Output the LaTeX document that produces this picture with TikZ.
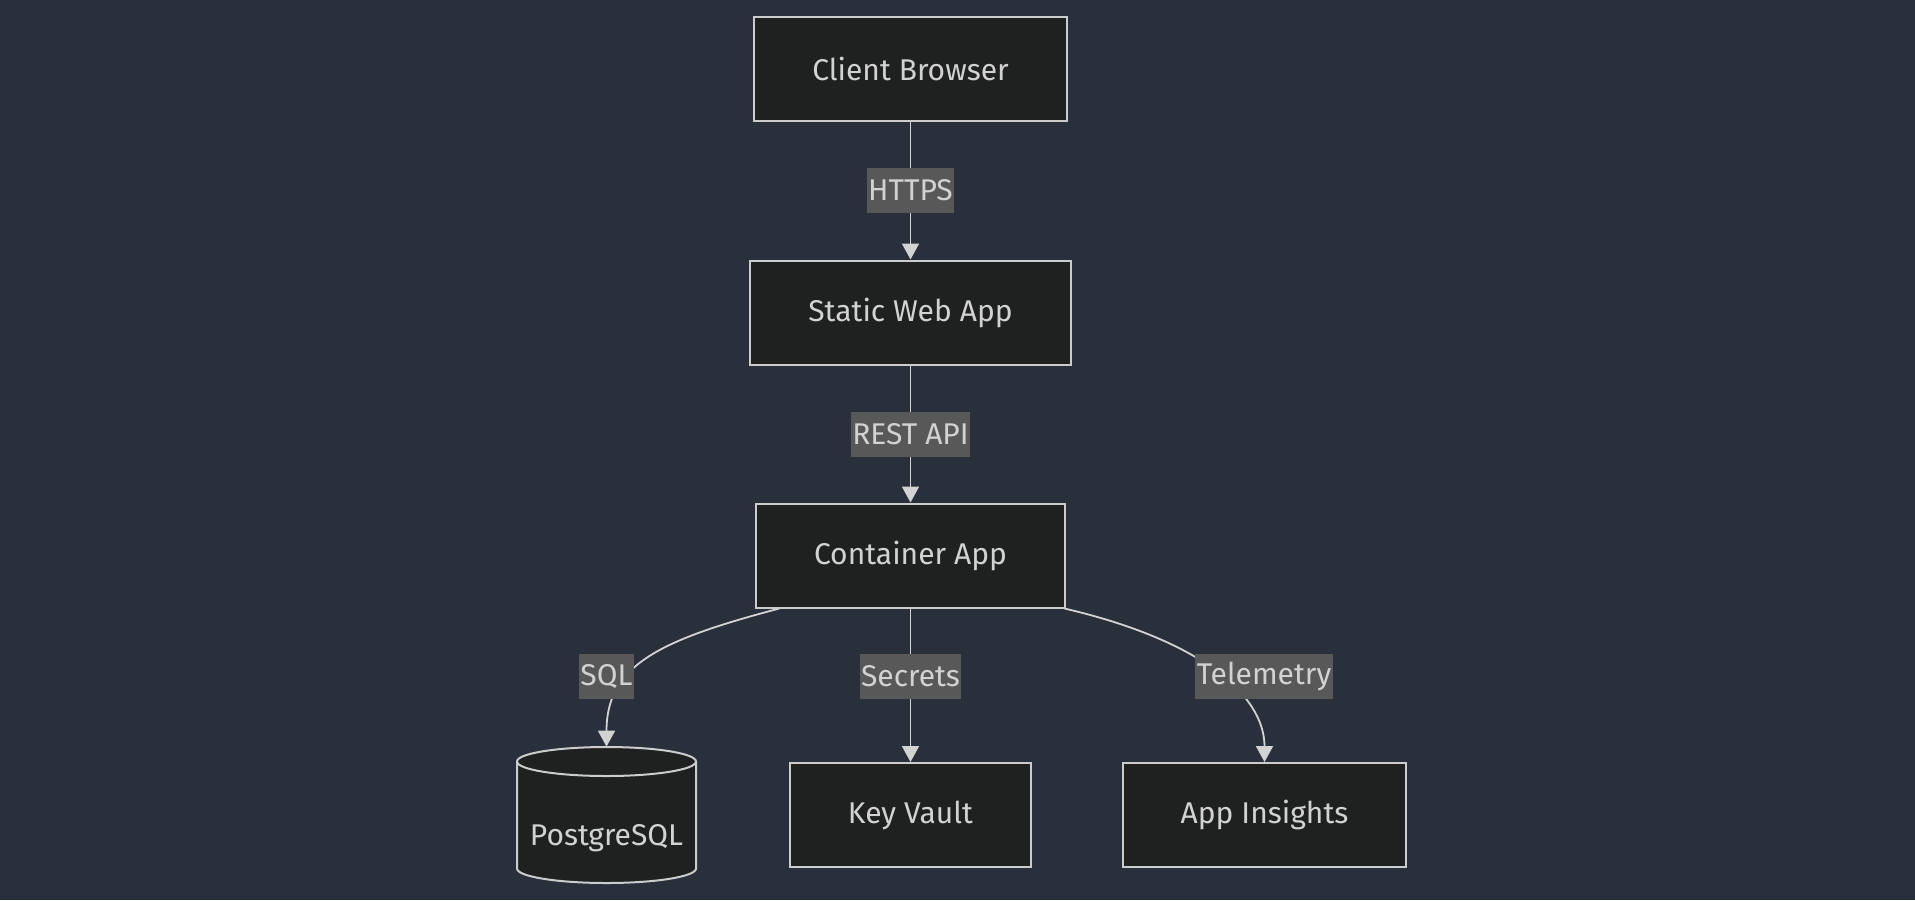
\documentclass[tikz,border=0pt]{standalone}
\usepackage{fontspec}
\setmainfont{Fira Sans}
\usepackage{xcolor}
\usepackage{tikz}
\usetikzlibrary{positioning}
\usetikzlibrary{arrows.meta}
\pgfdeclarelayer{nodelayer}
\pgfdeclarelayer{edgelayer}
\pgfsetlayers{nodelayer,edgelayer,main}

\definecolor{bgcol}{RGB}{42,47,60}
\definecolor{boxfill}{RGB}{31,32,32}
\definecolor{boxline}{RGB}{204,204,204}
\definecolor{labelfill}{RGB}{88,88,88}
\definecolor{inktext}{RGB}{210,210,210}
\definecolor{edgeline}{RGB}{211,211,211}

\tikzset{
  box/.style={draw=boxline, fill=boxfill, line width=1pt, text=inktext,
    minimum height=52pt, inner xsep=29pt, font=\fontsize{15}{18}\selectfont},
  dbbox/.style={inner sep=0pt, minimum width=89.5pt, minimum height=68pt,
    text=inktext, font=\fontsize{15}{18}\selectfont},
  elabel/.style={fill=labelfill, text=inktext, inner xsep=0.75pt, inner ysep=0pt,
    minimum height=22.5pt, font=\fontsize{15}{18}\selectfont},
  flow/.style={draw=edgeline, line width=0.9pt, -{Triangle[length=8pt,width=8.5pt]}}
}

\begin{document}
\begin{tikzpicture}[x=0.5pt, y=-0.5pt]
  \begin{pgfonlayer}{nodelayer}
    \fill [bgcol] (0, 0) rectangle (1915, 900);
    % database drum, drawn before its text
    \draw [draw=boxline, fill=boxfill, line width=1pt] (517, 761.5) -- (517, 868.5)
      arc [start angle=180, end angle=360, x radius=44.75pt, y radius=7.25pt]
      -- (696, 761.5)
      arc [start angle=0, end angle=180, x radius=44.75pt, y radius=7.25pt] -- cycle;
    \draw [boxline, line width=1pt] (517, 761.5)
      arc [start angle=180, end angle=360, x radius=44.75pt, y radius=7.25pt];
    \node [box] (0) at (910.5, 69) {Client Browser};
    \node [box] (1) at (910.5, 312.5) {Static Web App};
    \node [box] (2) at (910.5, 555.5) {Container App};
    \node [dbbox] (3) at (606.5, 815) {\raisebox{-15pt}[0pt][0pt]{PostgreSQL}};
    \node [box] (4) at (910.5, 815) {Key Vault};
    \node [box] (5) at (1264.5, 815) {App Insights};
  \end{pgfonlayer}
  \begin{pgfonlayer}{edgelayer}
    \draw [flow] (0) to (1);
    \draw [flow] (1) to (2);
    \draw [flow] (2.202) .. controls (660, 640) and (606.5, 665) .. (3.north);
    \draw [flow] (2) to (4);
    \draw [flow] (2.-19) .. controls (1200, 640) and (1264.5, 695) .. (5.north);
  \end{pgfonlayer}
  % edge labels sit on top
  \node [elabel] (6) at (910.5, 190.5) {HTTPS};
  \node [elabel] (7) at (910.5, 434) {REST API};
  \node [elabel] (8) at (606.5, 676.5) {SQL};
  \node [elabel] (9) at (910.5, 676.5) {Secrets};
  \node [elabel] (10) at (1264, 676.5) {Telemetry};
\end{tikzpicture}
\end{document}
